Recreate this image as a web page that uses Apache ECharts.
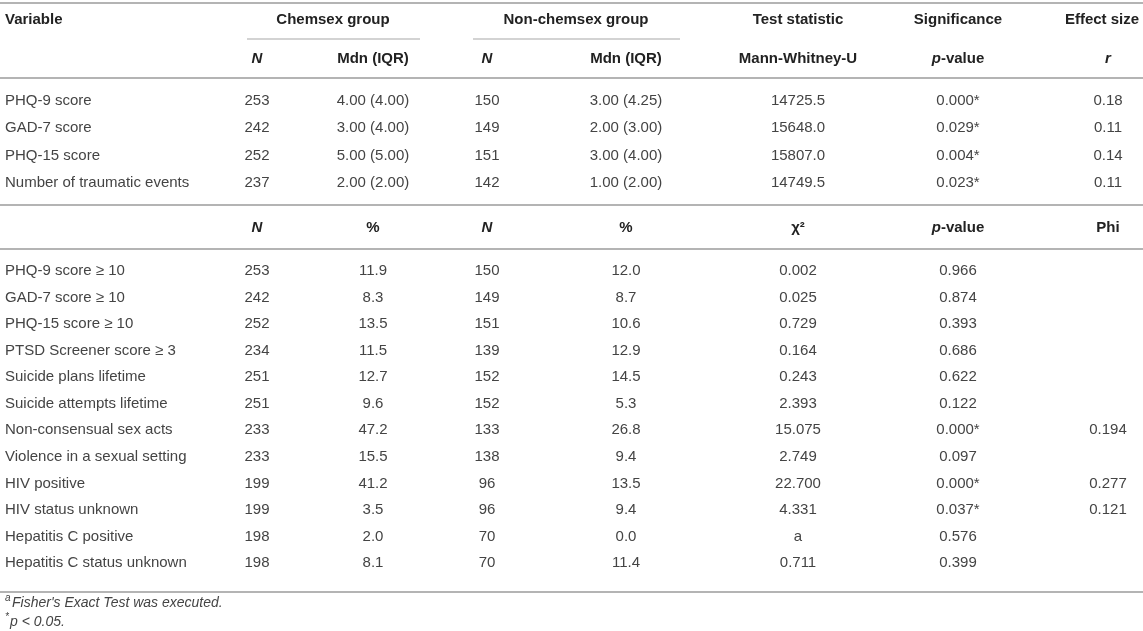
<!DOCTYPE html>
<html>
<head>
<meta charset="utf-8">
<script src="https://cdn.jsdelivr.net/npm/echarts@6/dist/echarts.min.js"></script>
<style>
  html, body { margin: 0; padding: 0; background: #fff; }
  #chart { width: 1143px; height: 631px; }
</style>
</head>
<body>
<div id="chart"></div>
<script>
// table values
const groupHeaders = ['Chemsex group', 'Non-chemsex group', 'Test statistic', 'Significance', 'Effect size']
const topHeaders = ['{bi|N}', 'Mdn (IQR)', '{bi|N}', 'Mdn (IQR)', 'Mann-Whitney-U', '{bi|p}-value', '{bi|r}']
const midHeaders = ['{bi|N}', '%', '{bi|N}', '%', 'χ²', '{bi|p}-value', 'Phi']

const topVars = ['PHQ-9 score', 'GAD-7 score', 'PHQ-15 score', 'Number of traumatic events']
const topChemN = ['253', '242', '252', '237']
const topChemMdn = ['4.00 (4.00)', '3.00 (4.00)', '5.00 (5.00)', '2.00 (2.00)']
const topNonN = ['150', '149', '151', '142']
const topNonMdn = ['3.00 (4.25)', '2.00 (3.00)', '3.00 (4.00)', '1.00 (2.00)']
const topU = ['14725.5', '15648.0', '15807.0', '14749.5']
const topP = ['0.000*', '0.029*', '0.004*', '0.023*']
const topR = ['0.18', '0.11', '0.14', '0.11']

const botVars = ['PHQ-9 score ≥ 10', 'GAD-7 score ≥ 10', 'PHQ-15 score ≥ 10', 'PTSD Screener score ≥ 3',
  'Suicide plans lifetime', 'Suicide attempts lifetime', 'Non-consensual sex acts',
  'Violence in a sexual setting', 'HIV positive', 'HIV status unknown', 'Hepatitis C positive',
  'Hepatitis C status unknown']
const botChemN = ['253', '242', '252', '234', '251', '251', '233', '233', '199', '199', '198', '198']
const botChemPct = ['11.9', '8.3', '13.5', '11.5', '12.7', '9.6', '47.2', '15.5', '41.2', '3.5', '2.0', '8.1']
const botNonN = ['150', '149', '151', '139', '152', '152', '133', '138', '96', '96', '70', '70']
const botNonPct = ['12.0', '8.7', '10.6', '12.9', '14.5', '5.3', '26.8', '9.4', '13.5', '9.4', '0.0', '11.4']
const botChi = ['0.002', '0.025', '0.729', '0.164', '0.243', '2.393', '15.075', '2.749', '22.700', '4.331', 'a', '0.711']
const botP = ['0.966', '0.874', '0.393', '0.686', '0.622', '0.122', '0.000*', '0.097', '0.000*', '0.037*', '0.576', '0.399']
const botPhi = ['', '', '', '', '', '', '0.194', '', '0.277', '0.121', '', '']

const footnotes = [['a', 'Fisher\'s Exact Test was executed.'], ['*', 'p < 0.05.']]

// layout (axis units = pixels)
const FONT = '"Liberation Sans", Arial, Helvetica, sans-serif'
const SIZE = 15
const varX = 5
const colX = [257, 373, 487, 626, 798, 958, 1108]
const groupX = [333, 576, 798, 958, 1102]
const underlines = [[247, 420], [473, 680]]
const rules = [3, 78, 205, 249, 592]
const topRowY = i => 101 + i * 27.3
const botRowY = i => 271 + i * 26.55

const cells = []
const addCell = (x, y, text, opt) => cells.push(Object.assign({ x, y, text, align: 'center' }, opt))

addCell(varX, 20, 'Variable', { align: 'left', bold: true })
groupHeaders.forEach((t, i) => addCell(groupX[i], 20, t, { bold: true }))
topHeaders.forEach((t, i) => addCell(colX[i], 59, t, { bold: true }))
midHeaders.forEach((t, i) => addCell(colX[i], 228, t, { bold: true }))

const topCols = [topChemN, topChemMdn, topNonN, topNonMdn, topU, topP, topR]
topVars.forEach((v, r) => {
  addCell(varX, topRowY(r), v, { align: 'left' })
  topCols.forEach((col, c) => addCell(colX[c], topRowY(r), col[r]))
})
const botCols = [botChemN, botChemPct, botNonN, botNonPct, botChi, botP, botPhi]
botVars.forEach((v, r) => {
  addCell(varX, botRowY(r), v, { align: 'left' })
  botCols.forEach((col, c) => { if (col[r]) addCell(colX[c], botRowY(r), col[r]) })
})
footnotes.forEach((f, i) => {
  const y = 603 + i * 19
  addCell(varX, y - 5, f[0], { align: 'left', size: 10, italic: true })
  addCell(varX + (f[0] === 'a' ? 7 : 5), y, f[1], { align: 'left', italic: true, size: 14 })
})

const lines = rules.map(y => [0, y, 1143]).concat(underlines.map(u => [u[0], 39, u[1]]))

const chart = echarts.init(document.getElementById('chart'), null, { renderer: 'canvas' })

const richStyles = {
  bi: { fontStyle: 'italic', fontWeight: 'bold', fontSize: SIZE, fontFamily: FONT, fill: '#222', color: '#222' }
}

chart.setOption({
  animation: false,
  backgroundColor: '#fff',
  grid: { left: 0, right: 0, top: 0, bottom: 0 },
  xAxis: { type: 'value', min: 0, max: 1143, show: false },
  yAxis: { type: 'value', min: 0, max: 631, inverse: true, show: false },
  series: [
    {
      type: 'custom',
      data: lines,
      renderItem: (params, api) => {
        const a = api.coord([api.value(0), api.value(1)])
        const b = api.coord([api.value(2), api.value(1)])
        const isRule = api.value(0) === 0
        return {
          type: 'line',
          shape: { x1: a[0], y1: a[1], x2: b[0], y2: b[1] },
          style: { stroke: isRule ? '#b4b4b4' : '#c4c4c4', lineWidth: isRule ? 2 : 1.3 }
        }
      }
    },
    {
      type: 'custom',
      data: cells.map(c => [c.x, c.y]),
      renderItem: (params, api) => {
        const cell = cells[params.dataIndex]
        const p = api.coord([api.value(0), api.value(1)])
        return {
          type: 'text',
          x: p[0],
          y: p[1],
          style: {
            text: cell.text,
            fontFamily: FONT,
            fontSize: cell.size || SIZE,
            fontWeight: cell.bold ? 'bold' : 'normal',
            fontStyle: cell.italic ? 'italic' : 'normal',
            fill: cell.bold ? '#222' : '#444',
            align: cell.align,
            textAlign: cell.align,
            verticalAlign: 'middle',
            textVerticalAlign: 'middle',
            rich: richStyles
          }
        }
      }
    }
  ]
})

window.addEventListener('resize', () => chart.resize())
</script>
</body>
</html>
